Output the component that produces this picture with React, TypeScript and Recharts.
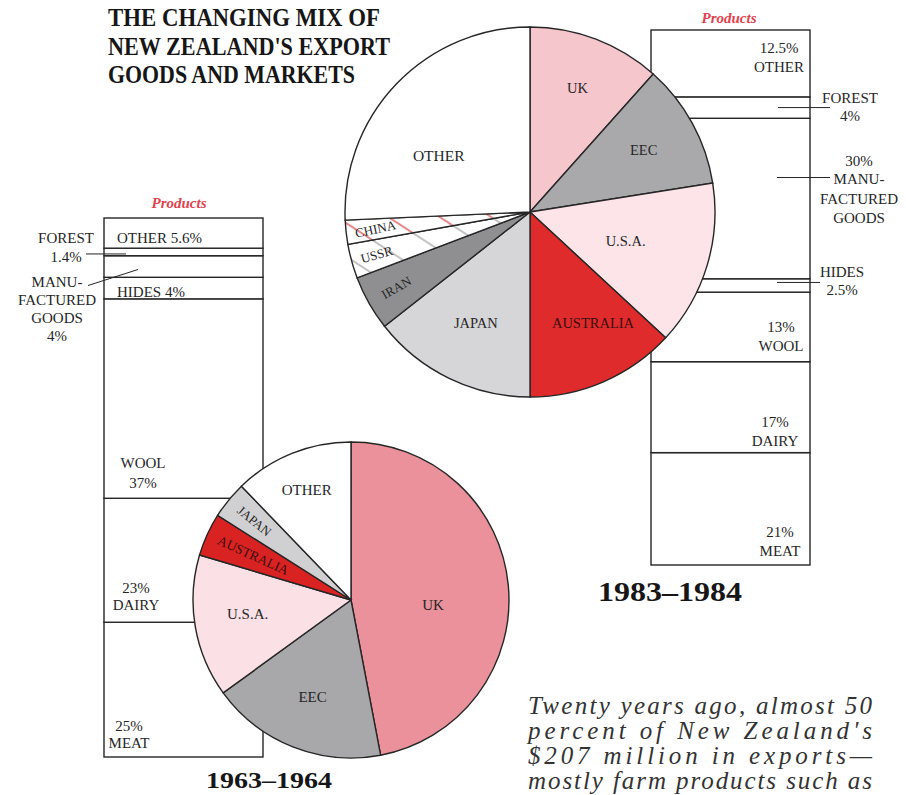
import { BarChart, Bar, XAxis, YAxis, PieChart, Pie, Cell } from "recharts";

const SERIF = '"Liberation Serif", "Times New Roman", serif';
const INK = "#262626";
const RED_TEXT = "#e1424e";
const RAD = Math.PI / 180;

// Markets 1983-84, % of exports, clockwise from 12 o'clock
const markets84 = ["UK", "EEC", "U.S.A.", "AUSTRALIA", "JAPAN", "IRAN", "USSR", "CHINA", "OTHER"];
const shares84 = [11.6, 10.9, 14.4, 13.1, 14.4, 4.8, 3.0, 2.1, 25.7];
const colors84 = ["#f6c6cd", "#a9a9ac", "#fce4e8", "#df2b2b", "#d6d6d9", "#8f8f92", "url(#hatchGray)", "url(#hatchRed)", "#ffffff"];

// Markets 1963-64
const markets64 = ["UK", "EEC", "U.S.A.", "AUSTRALIA", "JAPAN", "OTHER"];
const shares64 = [47.0, 18.0, 14.6, 4.4, 3.8, 12.2];
const colors64 = ["#ea919b", "#a8a8ab", "#fbe0e5", "#d92323", "#d0d0d3", "#ffffff"];

// Products, bottom of the column first
const products = ["MEAT", "DAIRY", "WOOL", "HIDES", "MANUFACTURED", "FOREST", "OTHER"];
const products64 = [25, 23, 37, 4, 4, 1.4, 5.6];
const products84 = [21, 17, 13, 2.5, 30, 4, 12.5];

const labels64: Record<string, string[]> = {
  MEAT: ["25%", "MEAT"],
  DAIRY: ["23%", "DAIRY"],
  WOOL: ["WOOL", "37%"],
  HIDES: ["HIDES 4%"],
  MANUFACTURED: ["MANU-", "FACTURED", "GOODS", "4%"],
  FOREST: ["FOREST", "1.4%"],
  OTHER: ["OTHER 5.6%"],
};
const labels84: Record<string, string[]> = {
  MEAT: ["21%", "MEAT"],
  DAIRY: ["17%", "DAIRY"],
  WOOL: ["13%", "WOOL"],
  HIDES: ["HIDES", "2.5%"],
  MANUFACTURED: ["30%", "MANU-", "FACTURED", "GOODS"],
  FOREST: ["FOREST", "4%"],
  OTHER: ["12.5%", "OTHER"],
};

const paragraph = [
  "Twenty years ago, almost 50",
  "percent of New Zealand's",
  "$207 million in exports\u2014",
  "mostly farm products such as",
];

type Place = {
  side: "L" | "R";
  x: number;
  ref: "top" | "mid" | "bot";
  ys: number[];
  anchor?: "start" | "middle";
  leader?: [number, number, number, number];
};

// label placement relative to each segment
const place64: Record<string, Place> = {
  OTHER: { side: "L", x: 13, ref: "top", ys: [20], anchor: "start" },
  FOREST: { side: "L", x: -38, ref: "mid", ys: [-14, 5], leader: [-18, 2, 22, 2] },
  MANUFACTURED: { side: "L", x: -47, ref: "mid", ys: [15, 33, 51, 69], leader: [-16, 19, 34, 3] },
  HIDES: { side: "L", x: 13, ref: "mid", ys: [4], anchor: "start" },
  WOOL: { side: "L", x: 39, ref: "bot", ys: [-35, -15] },
  DAIRY: { side: "L", x: 32, ref: "bot", ys: [-34, -17] },
  MEAT: { side: "L", x: 25, ref: "bot", ys: [-31, -14] },
};
const place84: Record<string, Place> = {
  OTHER: { side: "R", x: -31, ref: "mid", ys: [-15, 4] },
  FOREST: { side: "R", x: 40, ref: "mid", ys: [-10, 8], leader: [-32, 0, 20, 0] },
  MANUFACTURED: { side: "R", x: 49, ref: "mid", ys: [-38, -20, 0, 19], leader: [-33, -21, 20, -21] },
  HIDES: { side: "R", x: 32, ref: "mid", ys: [-13, 5], leader: [-33, -3, 10, -3] },
  WOOL: { side: "R", x: -29, ref: "bot", ys: [-35, -16] },
  DAIRY: { side: "R", x: -35, ref: "bot", ys: [-31, -12] },
  MEAT: { side: "R", x: -30, ref: "bot", ys: [-33, -14] },
};

type PieLabelPlace = { r: number; da?: number; rot?: boolean; drot?: number; size?: number; color?: string };
const pieLabels84: PieLabelPlace[] = [
  { r: 0.72 },
  { r: 0.7 },
  { r: 0.54 },
  { r: 0.69, da: -6, color: "#3a0d0d" },
  { r: 0.67 },
  { r: 0.83, rot: true, size: 13 },
  { r: 0.86, rot: true, size: 13 },
  { r: 0.84, rot: true, drot: -6, size: 13 },
  { r: 0.58, da: -12, size: 15.5 },
];
const pieLabels64: PieLabelPlace[] = [
  { r: 0.52, da: 9 },
  { r: 0.66 },
  { r: 0.66, da: 2 },
  { r: 0.68, rot: true, size: 13.5, color: "#3a0d0d" },
  { r: 0.79, rot: true, size: 13 },
  { r: 0.75 },
];

function segmentShape(lines: string[], pl: Place) {
  return (p: any) => {
    const { x, y, width, height } = p;
    const bx = pl.side === "L" ? x : x + width;
    const my = y + height / 2;
    const by = pl.ref === "top" ? y : pl.ref === "bot" ? y + height : my;
    return (
      <g>
        <rect x={x} y={y} width={width} height={height} fill="#fff" stroke={INK} strokeWidth={1.4} />
        {pl.leader && (
          <line
            x1={bx + pl.leader[0]}
            y1={my + pl.leader[1]}
            x2={bx + pl.leader[2]}
            y2={my + pl.leader[3]}
            stroke={INK}
            strokeWidth={1}
          />
        )}
        {lines.map((t, i) => (
          <text
            key={i}
            x={bx + pl.x}
            y={by + pl.ys[i]}
            textAnchor={pl.anchor ?? "middle"}
            dominantBaseline="central"
            fontFamily={SERIF}
            fontSize={15}
            fill={INK}
          >
            {t}
          </text>
        ))}
      </g>
    );
  };
}

function ProductColumn({ values, labels, places, width, height, margin }: any) {
  const row: Record<string, any> = { period: "p" };
  products.forEach((p, i) => (row[p] = values[i]));
  return (
    <BarChart width={width} height={height} data={[row]} margin={margin} barCategoryGap={0}>
      <XAxis dataKey="period" hide />
      <YAxis hide type="number" domain={[0, 100]} />
      {products.map((p) => (
        <Bar
          key={p}
          dataKey={p}
          stackId="mix"
          isAnimationActive={false}
          shape={segmentShape(labels[p], places[p])}
        />
      ))}
    </BarChart>
  );
}

function pieLabel(places: PieLabelPlace[], baseSize: number) {
  return (p: any) => {
    const s = places[p.index];
    let cw = 90 - p.midAngle;
    cw = ((cw % 360) + 360) % 360;
    const a = cw + (s.da ?? 0);
    const r = p.outerRadius * s.r;
    const x = p.cx + r * Math.sin(a * RAD);
    const y = p.cy - r * Math.cos(a * RAD);
    const rot = s.rot ? cw - 270 + (s.drot ?? 0) : 0;
    return (
      <text
        x={x}
        y={y}
        textAnchor="middle"
        dominantBaseline="central"
        transform={rot ? `rotate(${rot} ${x} ${y})` : undefined}
        fontFamily={SERIF}
        fontSize={s.size ?? baseSize}
        fill={s.color ?? INK}
      >
        {p.name}
      </text>
    );
  };
}

function MarketPie({ names, values, colors, places, width, height, cx, cy, radius, fontSize }: any) {
  const rows = names.map((n: string, i: number) => ({ market: n, share: values[i] }));
  return (
    <PieChart width={width} height={height} margin={{ top: 0, right: 0, bottom: 0, left: 0 }}>
      <Pie
        data={rows}
        dataKey="share"
        nameKey="market"
        cx={cx}
        cy={cy}
        outerRadius={radius}
        startAngle={90}
        endAngle={-270}
        stroke={INK}
        strokeWidth={1.4}
        labelLine={false}
        label={pieLabel(places, fontSize)}
        isAnimationActive={false}
      >
        {rows.map((_: any, i: number) => (
          <Cell key={i} fill={colors[i]} />
        ))}
      </Pie>
    </PieChart>
  );
}

export default function App() {
  return (
    <div
      style={{
        position: "absolute",
        left: 0,
        top: 0,
        width: 906,
        height: 795,
        overflow: "hidden",
        background: "#fff",
      }}
    >
      {/* hatch patterns for the small market slices */}
      <svg width={0} height={0} style={{ position: "absolute" }}>
        <defs>
          <pattern id="hatchRed" patternUnits="userSpaceOnUse" width={28} height={28} patternTransform="rotate(-57)">
            <rect width={28} height={28} fill="#fff" />
            <line x1={4} y1={0} x2={4} y2={28} stroke="#e0555a" strokeWidth={1.4} />
          </pattern>
          <pattern id="hatchGray" patternUnits="userSpaceOnUse" width={28} height={28} patternTransform="rotate(-57)">
            <rect width={28} height={28} fill="#fff" />
            <line x1={4} y1={0} x2={4} y2={28} stroke="#9a9a9d" strokeWidth={1.2} />
          </pattern>
        </defs>
      </svg>

      {/* titles and notes */}
      <svg width={906} height={795} style={{ position: "absolute", left: 0, top: 0 }}>
        <g fontFamily={SERIF} fontWeight="bold" fontSize={25} fill="#161616">
          <text x={108} y={26} textLength={272} lengthAdjust="spacingAndGlyphs">THE CHANGING MIX OF</text>
          <text x={108} y={55} textLength={282} lengthAdjust="spacingAndGlyphs">NEW ZEALAND'S EXPORT</text>
          <text x={108} y={83} textLength={247} lengthAdjust="spacingAndGlyphs">GOODS AND MARKETS</text>
        </g>
        <g fontFamily={SERIF} fontStyle="italic" fontWeight="bold" fontSize={15} fill={RED_TEXT} textAnchor="middle">
          <text x={179} y={208}>Products</text>
          <text x={729} y={23}>Products</text>
        </g>
        <g fontFamily={SERIF} fontWeight="bold" fill="#161616">
          <text x={206} y={788} fontSize={24} textLength={126} lengthAdjust="spacingAndGlyphs">1963–1964</text>
          <text x={598} y={601} fontSize={28} textLength={144} lengthAdjust="spacingAndGlyphs">1983–1984</text>
        </g>
        <g fontFamily={SERIF} fontStyle="italic" fontSize={25} fill="#333">
          {paragraph.map((t, i) => (
            <text key={i} x={528} y={714 + i * 25} textLength={344} lengthAdjust="spacing">
              {t}
            </text>
          ))}
        </g>
      </svg>

      {/* product columns */}
      <div style={{ position: "absolute", left: 0, top: 200 }}>
        <ProductColumn
          values={products64}
          labels={labels64}
          places={place64}
          width={290}
          height={570}
          margin={{ top: 18, right: 27, bottom: 13, left: 104 }}
        />
      </div>
      <div style={{ position: "absolute", left: 640, top: 12 }}>
        <ProductColumn
          values={products84}
          labels={labels84}
          places={place84}
          width={266}
          height={570}
          margin={{ top: 18, right: 96, bottom: 17, left: 11 }}
        />
      </div>

      {/* market pies, drawn over the columns */}
      <div style={{ position: "absolute", left: 330, top: 17 }}>
        <MarketPie
          names={markets84}
          values={shares84}
          colors={colors84}
          places={pieLabels84}
          width={400}
          height={390}
          cx={200}
          cy={195}
          radius={185}
          fontSize={14.5}
        />
      </div>
      <div style={{ position: "absolute", left: 180, top: 430 }}>
        <MarketPie
          names={markets64}
          values={shares64}
          colors={colors64}
          places={pieLabels64}
          width={342}
          height={342}
          cx={171}
          cy={170}
          radius={158}
          fontSize={15}
        />
      </div>
    </div>
  );
}
